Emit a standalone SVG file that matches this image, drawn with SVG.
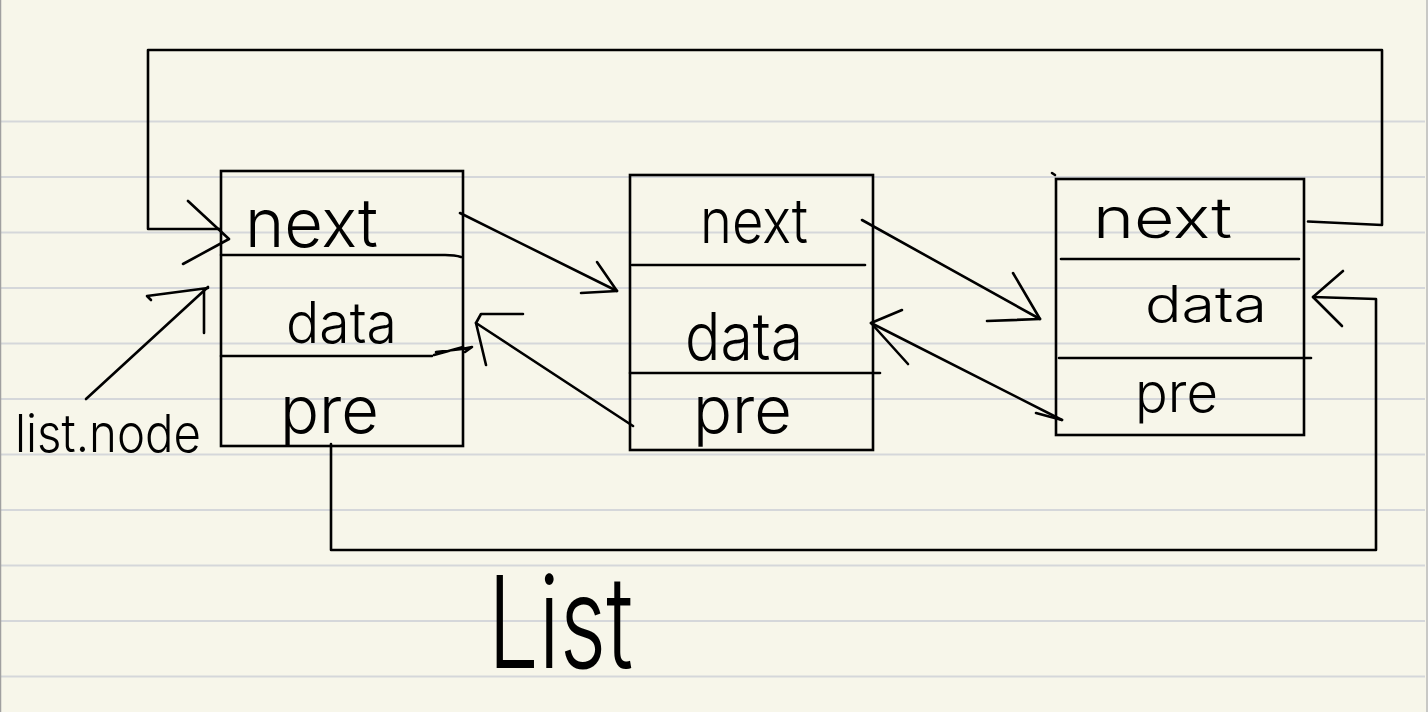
<svg xmlns="http://www.w3.org/2000/svg" width="1428" height="712" viewBox="0 0 1428 712">
<style>
.rule{stroke:#d5d7da;stroke-width:2;fill:none}
.box{fill:none;stroke:#000;stroke-width:2.6}
.ln{fill:none;stroke:#000;stroke-width:2.6;stroke-linecap:round;stroke-linejoin:round}
.hw{font-family:Inter,"Liberation Sans",sans-serif;font-weight:300;fill:#000}
</style>
<rect x="0" y="0" width="1428" height="712" fill="#f7f6ea"/>
<g id="paper">
<line class="rule" x1="0" y1="121.5" x2="1425" y2="121.5"/>
<line class="rule" x1="0" y1="177" x2="1425" y2="177"/>
<line class="rule" x1="0" y1="232.5" x2="1425" y2="232.5"/>
<line class="rule" x1="0" y1="288" x2="1425" y2="288"/>
<line class="rule" x1="0" y1="343.5" x2="1425" y2="343.5"/>
<line class="rule" x1="0" y1="399" x2="1425" y2="399"/>
<line class="rule" x1="0" y1="454.5" x2="1425" y2="454.5"/>
<line class="rule" x1="0" y1="510" x2="1425" y2="510"/>
<line class="rule" x1="0" y1="565.5" x2="1425" y2="565.5"/>
<line class="rule" x1="0" y1="621" x2="1425" y2="621"/>
<line class="rule" x1="0" y1="676.5" x2="1425" y2="676.5"/>
<line x1="0.5" y1="0" x2="0.5" y2="712" stroke="#a0a0a0" stroke-width="1.5"/>
<line x1="1427" y1="0" x2="1427" y2="712" stroke="#b8b8b8" stroke-width="1.5"/>
</g>
<g id="node1">
<rect class="box" x="221" y="171" width="242" height="275"/>
<path class="ln" d="M221 255 L445 255 Q455 255 461 257"/>
<path class="ln" d="M221 356 L432 356"/>
<text class="hw" x="245" y="247" font-size="68" textLength="133" lengthAdjust="spacingAndGlyphs">next</text>
<text class="hw" x="286" y="343" font-size="57" textLength="111" lengthAdjust="spacingAndGlyphs">data</text>
<text class="hw" x="280" y="433" font-size="66" textLength="99" lengthAdjust="spacingAndGlyphs">pre</text>
</g>
<g id="node2">
<rect class="box" x="630" y="175" width="243" height="275"/>
<line class="ln" x1="632" y1="265" x2="865" y2="265"/>
<line class="ln" x1="630" y1="373" x2="880" y2="373"/>
<text class="hw" x="700" y="243" font-size="62" textLength="108" lengthAdjust="spacingAndGlyphs">next</text>
<text class="hw" x="685" y="360" font-size="66" textLength="118" lengthAdjust="spacingAndGlyphs">data</text>
<text class="hw" x="693" y="433" font-size="66" textLength="99" lengthAdjust="spacingAndGlyphs">pre</text>
</g>
<g id="node3">
<rect class="box" x="1056" y="179" width="248" height="256"/>
<line class="ln" x1="1052" y1="173" x2="1055" y2="175"/>
<line class="ln" x1="1061" y1="259" x2="1299" y2="259"/>
<line class="ln" x1="1059" y1="358" x2="1311" y2="358"/>
<text class="hw" x="1093" y="238" font-size="56" textLength="139" lengthAdjust="spacingAndGlyphs">next</text>
<text class="hw" x="1145" y="322" font-size="50" textLength="122" lengthAdjust="spacingAndGlyphs">data</text>
<text class="hw" x="1135" y="412" font-size="54" textLength="83" lengthAdjust="spacingAndGlyphs">pre</text>
</g>
<g id="labels">
<text class="hw" x="15" y="452" font-size="52" textLength="186" lengthAdjust="spacingAndGlyphs">list.node</text>
<text class="hw" x="488" y="668" font-size="128" textLength="145" lengthAdjust="spacingAndGlyphs">List</text>
</g>
<g id="connectors">
<path class="ln" d="M1308 221.5 L1382 225 L1382 50 L148 50 L148 229 L220 229"/>
<path class="ln" d="M188 201 L229 239 L183 264"/>
<path class="ln" d="M86 399 L208 287"/>
<path class="ln" d="M151 300 L147 296 L208 288 M204 290 L204 333"/>
<path class="ln" d="M460 213 L617 291"/>
<path class="ln" d="M597 262 L617 291 L581 293"/>
<path class="ln" d="M633 426 L476 323"/>
<path class="ln" d="M523 314 L481 314 L476 323 L486 365"/>
<path class="ln" d="M434 355 L463 347 M436 352 L462 349 L472 347 L465 352"/>
<path class="ln" d="M862 220 L1040 319"/>
<path class="ln" d="M1013 273 L1040 319 L987 321"/>
<path class="ln" d="M1062 420 L871 323"/>
<path class="ln" d="M902 310 L871 323 L908 364"/>
<path class="ln" d="M1036 413 L1062 420"/>
<path class="ln" d="M331 444 L331 550 L1376 550 L1376 299 L1313 297"/>
<path class="ln" d="M1343 271 L1313 297 L1342 326"/>
</g>
</svg>
